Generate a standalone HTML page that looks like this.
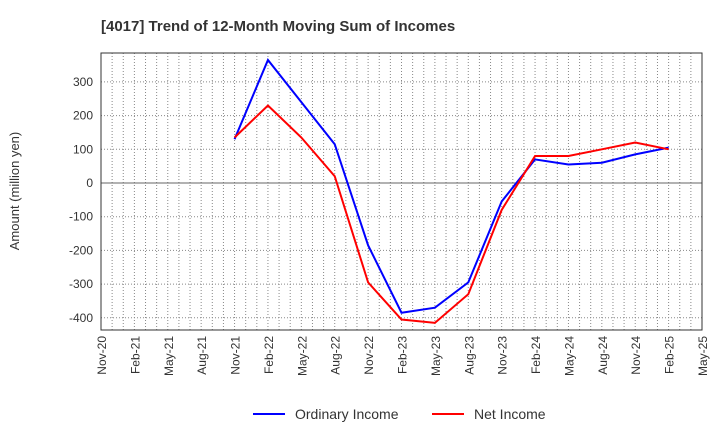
<!DOCTYPE html>
<html><head><meta charset="utf-8"><style>
body{margin:0;background:#fff;font-family:"Liberation Sans",sans-serif;}
</style></head><body>
<svg width="720" height="440" xmlns="http://www.w3.org/2000/svg" id="chart">
<text x="101" y="31" font-size="15" font-weight="bold" fill="#333">[4017]  Trend of 12-Month Moving Sum of Incomes</text>
<text transform="translate(19,191) rotate(-90)" text-anchor="middle" font-size="13" fill="#333">Amount (million yen)</text>
<g id="grid"></g><g id="axes"></g><g id="series"></g>
<g>
<line x1="253" y1="414" x2="285" y2="414" stroke="#0000ff" stroke-width="2"/>
<text x="295" y="419" font-size="14" fill="#333">Ordinary Income</text>
<line x1="432" y1="414" x2="464" y2="414" stroke="#ff0000" stroke-width="2"/>
<text x="474" y="419" font-size="14" fill="#333">Net Income</text>
</g>
</svg>
<script>
const categories=["Nov-20","Feb-21","May-21","Aug-21","Nov-21","Feb-22","May-22","Aug-22","Nov-22","Feb-23","May-23","Aug-23","Nov-23","Feb-24","May-24","Aug-24","Nov-24","Feb-25","May-25"];
const yTicks=[300,200,100,0,-100,-200,-300,-400];
const ordinaryIncome=[null,null,null,null,130,365,240,115,-185,-385,-370,-295,-55,70,55,60,85,105,null];
const netIncome=[null,null,null,null,135,230,135,20,-295,-405,-415,-330,-80,80,80,100,120,100,null];
const L=101,R=702,T=53,B=330;
const xs=i=>L+i*(R-L)/(categories.length-1);
const ys=v=>183-v*0.337;
const NS="http://www.w3.org/2000/svg";
const grid=document.getElementById('grid'),axes=document.getElementById('axes'),ser=document.getElementById('series');
function mk(tag,attrs,parent){const e=document.createElementNS(NS,tag);for(const k in attrs)e.setAttribute(k,attrs[k]);parent.appendChild(e);return e;}
for(let m=1;m<(categories.length-1)*3;m++){
 const x=xs(m/3);
 const g=mk('line',{x1:x,x2:x,y1:T,y2:B,stroke:'#888','stroke-dasharray':'1,2','stroke-width':1},grid);
 
 
}
categories.forEach((c,i)=>{
 const t=mk('text',{transform:`translate(${xs(i)+5},${B+6}) rotate(-90)`,'text-anchor':'end','font-size':12,fill:'#333'},axes);
 t.textContent=c;
 
 
});
yTicks.forEach(v=>{
 const attrs={x1:L,x2:R,y1:ys(v),y2:ys(v),stroke:v===0?'#666':'#888','stroke-width':1};
 if(v!==0)attrs['stroke-dasharray']='1,2';
 const g=mk('line',attrs,grid);
 
 
 const t=mk('text',{x:L-8,y:ys(v)+4,'text-anchor':'end','font-size':12,fill:'#333'},axes);
 t.textContent=v;
 
 
});
const frame=mk('rect',{x:L,y:T,width:R-L,height:B-T,fill:'none',stroke:'#333','stroke-width':1},axes);


function line(data,color,name){
 const pts=data.map((v,i)=>v==null?null:xs(i)+','+ys(v)).filter(p=>p);
 const p=mk('polyline',{points:pts.join(' '),fill:'none',stroke:color,'stroke-width':2},ser);
 
 
}
line(ordinaryIncome,'#0000ff','ordinary-income-line');
line(netIncome,'#ff0000','net-income-line');
</script>
</body></html>
